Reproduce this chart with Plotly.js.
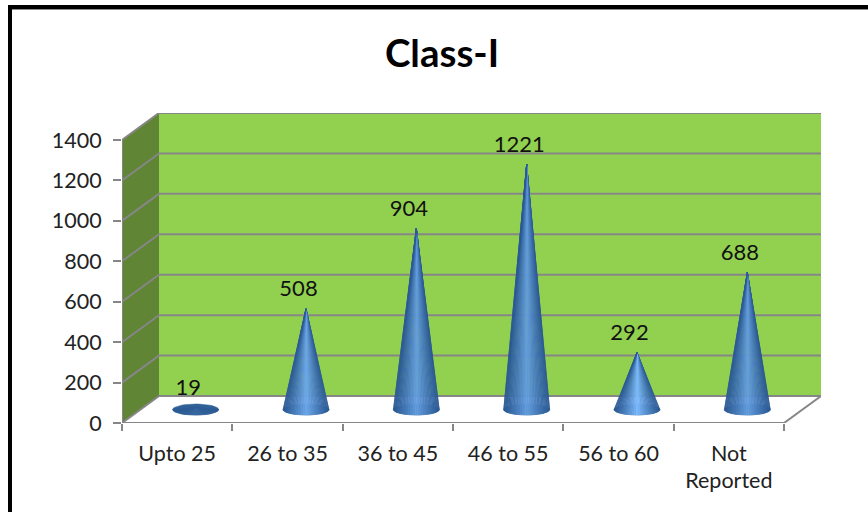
<!DOCTYPE html>
<html>
<head>
<meta charset="utf-8">
<script src="https://cdn.plot.ly/plotly-3.0.1.min.js"></script>
<style>html,body{margin:0;padding:0;background:#fff}#chart{width:868px;height:512px}</style>
</head>
<body>
<div id="chart"></div>
<script>
var categories = ["Upto 25", "26 to 35", "36 to 45", "46 to 55", "56 to 60", "Not<br>Reported"];
var values = [19, 508, 904, 1221, 292, 688];
var yTicks = [0, 200, 400, 600, 800, 1000, 1200, 1400];
var highlights = ["#39699f", "#6ea9ec", "#659fe0", "#659fe0", "#7dbcff", "#659fe0"];

var W = 868, H = 512;
var FL = 122, FR = 784, FB = 423, FT = 140, DX = 37, DY = 27;
var pxPerCat = (FR - FL) / categories.length;
var pxPerUnit = (FB - FT) / 1400;
var dxU = DX / pxPerCat, dyU = DY / pxPerUnit;
var xMin = -0.5, xMax = xMin + (FR - FL + DX) / pxPerCat;
var yMax = 1400 + dyU;
var GRID = "#868686", FONT = "Lato, Carlito, 'Open Sans', sans-serif", TXT = "#222222";
var traces = [];

function poly(xs, ys, fill, lineColor, lineW) {
  traces.push({type: "scatter", mode: "lines", x: xs, y: ys, fill: "toself", fillcolor: fill,
    line: {color: lineColor || fill, width: lineW === undefined ? 0.5 : lineW},
    hoverinfo: "skip", showlegend: false, cliponaxis: false});
}
function path(xs, ys, w) {
  traces.push({type: "scatter", mode: "lines", x: xs, y: ys,
    line: {color: GRID, width: w || 2}, hoverinfo: "skip", showlegend: false, cliponaxis: false});
}
// chart box
var x0 = xMin, x1 = xMin + categories.length;
poly([x0, x0, x0 + dxU, x0 + dxU, x0], [0, 1400, yMax, dyU, 0], "#5f8535", "#5f8535", 0);
poly([x0 + dxU, x0 + dxU, x1 + dxU, x1 + dxU, x0 + dxU], [dyU, yMax, yMax, dyU, dyU], "#92d050", "#92d050", 0);
poly([x0, x0 + dxU, x1 + dxU, x1, x0], [0, dyU, dyU, 0, 0], "#ffffff", "#ffffff", 0);
yTicks.forEach(function (t) {
  path([x0, x0 + dxU, x1 + dxU], [t, t + dyU, t + dyU]);
});
path([x1, x1 + dxU], [0, dyU]);
path([x0, x1], [0, 0]);
path([x0, x0], [0, 1400]);

// colour helpers
function hex(c) { return [1, 3, 5].map(function (i) { return parseInt(c.substr(i, 2), 16); }); }
function mix(a, b, t) {
  var A = hex(a), B = hex(b);
  return "rgb(" + A.map(function (v, i) { return Math.round(v + (B[i] - v) * t); }).join(",") + ")";
}
// cones
var R = 23 / pxPerCat, E = 5.5 / pxPerUnit, N = 40, TIP_PX = 2;
values.forEach(function (v, i) {
  var cx = i + dxU / 2, tipY = dyU / 2 + v - TIP_PX / pxPerUnit;
  var ex = [], ey = [];
  for (var k = 0; k <= 48; k++) {
    var a = k / 48 * 2 * Math.PI;
    ex.push(cx + R * Math.cos(a)); ey.push(dyU / 2 + E * Math.sin(a));
  }
  poly(ex, ey, "#2f6096");
  for (var s = 0; s < N; s++) {
    var a0 = s / N * Math.PI, a1 = (s + 1) / N * Math.PI, am = (a0 + a1) / 2;
    var t = 1 - Math.abs(Math.cos(am));
    var col = mix("#2c5a94", highlights[i], Math.pow(t, 1.1));
    poly([cx, cx + R * Math.cos(a0), cx + R * Math.cos(a1), cx],
         [tipY, dyU / 2 - E * Math.sin(a0), dyU / 2 - E * Math.sin(a1), tipY], col);
  }
});
// value labels
traces.push({type: "scatter", mode: "text",
  x: values.map(function (v, i) { return i + dxU / 2 - 7.5 / pxPerCat; }),
  y: values.map(function (v) { return v + dyU / 2 + 5 / pxPerUnit; }),
  text: values.map(String), textposition: "top center",
  textfont: {family: FONT, size: 22, color: "#111111"},
  hoverinfo: "skip", showlegend: false, cliponaxis: false});
// carrier for the tick-mark axis
traces.push({type: "scatter", mode: "none", xaxis: "x2", x: [xMin], y: [0], hoverinfo: "skip", showlegend: false});

var xDomain = [FL / W, (FR + DX) / W], yDomain = [(H - FB) / H, (H - FT + DY) / H];
var frame = [
  {type: "rect", xref: "paper", yref: "paper", x0: 8 / W, x1: 12 / W, y0: 0, y1: 1 - 5 / H, fillcolor: "#000", line: {width: 0}},
  {type: "rect", xref: "paper", yref: "paper", x0: 8 / W, x1: 1, y0: 1 - 9 / H, y1: 1 - 5 / H, fillcolor: "#000", line: {width: 0}},
  {type: "line", xref: "paper", yref: "paper", x0: 12 / W, x1: 1, y0: 1 - 9.5 / H, y1: 1 - 9.5 / H, line: {color: "#8a8a8a", width: 1}}
];
var tickEdges = categories.map(function (c, i) { return i - 0.5; }).concat([categories.length - 0.5]);

Plotly.newPlot("chart", traces, {
  width: W, height: H,
  margin: {l: 0, r: 0, t: 0, b: 0},
  paper_bgcolor: "#ffffff", plot_bgcolor: "rgba(0,0,0,0)",
  showlegend: false,
  title: {text: "<b>Class-I</b>", x: 442 / W, xanchor: "center", y: 1 - 54 / H, yanchor: "middle",
    font: {family: FONT, size: 38.5, color: "#000000"}},
  xaxis: {domain: xDomain, range: [xMin, xMax], tickmode: "array",
    tickvals: categories.map(function (c, i) { return i; }), ticktext: categories,
    ticks: "", ticklabelstandoff: 15, showgrid: false, zeroline: false, showline: false,
    tickfont: {family: FONT, size: 21.5, color: TXT}, fixedrange: true},
  xaxis2: {domain: xDomain, range: [xMin, xMax], overlaying: "x", anchor: "y", side: "bottom",
    tickmode: "array", tickvals: tickEdges, ticktext: tickEdges.map(function () { return ""; }),
    ticks: "outside", ticklen: 7, tickwidth: 2, tickcolor: GRID, showgrid: false, zeroline: false, showline: false, fixedrange: true},
  yaxis: {domain: yDomain, range: [0, yMax], tickmode: "array", tickvals: yTicks,
    ticktext: yTicks.map(String), ticks: "outside", ticklen: 8, tickwidth: 2, tickcolor: GRID,
    ticklabelstandoff: 7, showgrid: false, zeroline: false, showline: false,
    tickfont: {family: FONT, size: 21.5, color: TXT}, fixedrange: true},
  shapes: frame
}, {displayModeBar: false, staticPlot: true});
</script>
</body>
</html>
